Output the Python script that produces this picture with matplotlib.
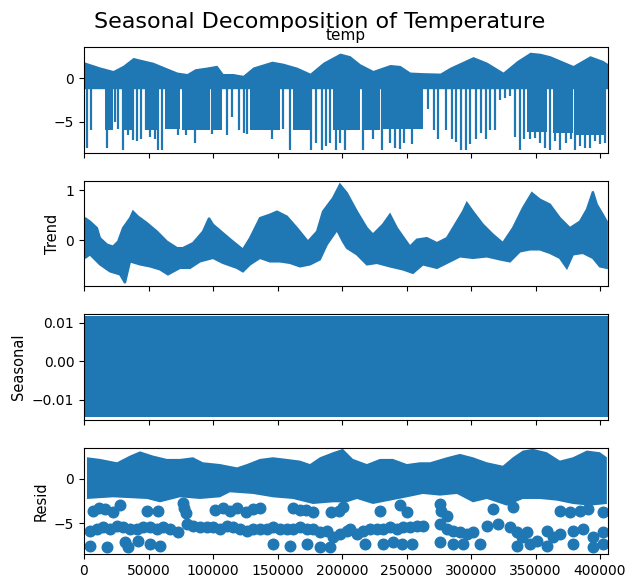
import numpy as np
import matplotlib
matplotlib.use("Agg")
import matplotlib.pyplot as plt

BLUE = "#1f77b4"

# ---------------- data ----------------
x_ticks = [0, 50000, 100000, 150000, 200000, 250000, 300000, 350000, 400000]
n_obs = 406200

# observed ("temp"): upper envelope of dense band, floor of band, deep runs and spikes
obs_x = [0, 12400, 22500, 30200, 38000, 43400, 53500, 72100, 79800, 86000, 95300,
         103000, 107700, 115400, 123200, 131000, 145700, 154300, 165100, 175200,
         185300, 198400, 206200, 214000, 224000, 237200, 245000, 252700, 262800,
         276000, 283700, 301600, 312400, 324800, 335700, 345700, 353500, 361200,
         379100, 392200, 402300, 406200]
obs_top = [1.9, 1.3, 0.9, 1.5, 2.4, 2.2, 1.85, 0.72, 0.55, 1.1, 1.3, 1.5, 0.55, 0.55,
           0.35, 1.3, 1.97, 1.74, 1.28, 0.6, 1.85, 2.9, 2.6, 1.67, 0.91, 1.59, 1.48,
           0.72, 0.65, 0.6, 1.28, 2.5, 1.85, 0.72, 2.05, 3.0, 2.88, 2.6, 1.48, 2.6,
           2.05, 1.67]
obs_floor = -1.2
deep_start = [16300, 29200, 47300, 62800, 75700, 99000, 128700, 162200, 193200,
              215200, 232000, 343100, 363800, 381700]
deep_end = [22700, 38200, 56300, 74400, 97700, 106700, 151900, 175200, 214000,
            229400, 263000, 358600, 379300, 405000]
deep_depth = [-5.9, -5.9, -5.9, -5.8, -5.9, -5.9, -5.9, -5.9, -5.9,
              -5.9, -5.8, -6.2, -6.3, -6.5]
spike_x = [2300, 5400, 17800, 24000, 26400, 30200, 34100, 38000, 41100, 44200, 48100,
           51200, 55000, 57400, 60500, 72900, 79100, 86000, 93800, 99200, 110800,
           114700, 120100, 124000, 126300, 145700, 150400, 154200, 159700, 175900,
           179800, 184500, 187600, 190700, 195300, 198400, 202300, 216200, 224000,
           231000, 237200, 241000, 244900, 248000, 254200, 266600, 271300, 274400,
           280600, 285200, 288300, 292200, 296100, 299200, 303800, 307700, 311600,
           314700, 318500, 322400, 326300, 330200, 334000, 337900, 341000, 345700,
           349500, 353400, 357300, 361200, 365000, 368900, 373600, 377400, 380500,
           384400, 388300, 392200, 396000, 399900, 403800]
spike_y = [-8.0, -5.9, -8.0, -5.0, -5.8, -8.2, -6.5, -7.1, -7.2, -7.0, -5.9, -6.8,
           -7.0, -8.2, -8.2, -6.5, -6.5, -7.5, -6.0, -6.4, -6.5, -4.5, -6.0, -6.3,
           -6.4, -7.0, -6.0, -5.8, -8.2, -8.2, -7.5, -8.2, -7.8, -7.5, -8.2, -7.5,
           -8.2, -8.2, -7.0, -8.2, -7.5, -8.0, -8.1, -7.4, -7.6, -3.5, -5.9, -7.0,
           -6.0, -7.0, -7.3, -8.2, -8.2, -7.6, -7.0, -6.3, -7.0, -5.9, -6.0, -2.5,
           -2.3, -2.0, -6.8, -8.2, -7.0, -7.0, -6.9, -7.5, -8.0, -8.2, -7.2, -8.2,
           -7.4, -7.0, -8.2, -7.8, -8.0, -8.0, -7.2, -7.6, -7.4]

# trend: upper and lower envelopes of the noisy band
trend_up_x = [800, 4650, 10100, 12400, 17800, 22500, 26400, 30200, 35700, 38000,
              41900, 48800, 56600, 64300, 72100, 76700, 84500, 92200, 96900, 100000,
              107700, 115500, 123200, 128700, 136400, 144200, 149600, 157300, 165100,
              173600, 180600, 185200, 193000, 198400, 203800, 211600, 219300, 224000,
              231700, 237200, 242600, 247200, 252700, 258100, 265800, 273600, 281300,
              286000, 293700, 296800, 301500, 309200, 317000, 324700, 332500, 340200,
              347200, 353400, 361200, 368900, 376700, 384400, 389800, 394500, 397600,
              402200, 405300]
trend_up = [0.44, 0.37, 0.24, 0.04, -0.09, -0.13, -0.03, 0.24, 0.44, 0.57,
            0.47, 0.34, 0.17, -0.03, -0.16, -0.16, -0.06, 0.17, 0.44, 0.31,
            0.14, -0.03, -0.19, 0.04, 0.44, 0.51, 0.57, 0.47, 0.24, -0.03,
            0.17, 0.57, 0.84, 1.11, 0.94, 0.57, 0.24, 0.11, 0.31, 0.51,
            0.24, 0.07, -0.13, 0.01, 0.04, -0.06, 0.04, 0.24, 0.57, 0.74,
            0.57, 0.31, 0.11, -0.06, 0.24, 0.64, 0.94, 0.81, 0.71, 0.44,
            0.24, 0.37, 0.61, 0.97, 0.71, 0.51, 0.37]
trend_lo_x = [800, 4650, 12400, 20200, 27900, 31800, 35700, 43400, 51200, 58900,
              65100, 74400, 82200, 89900, 100000, 107700, 118600, 123200, 128700, 136400,
              144200, 151900, 159700, 167400, 175200, 182900, 188300, 196100, 200700, 203800,
              211600, 219300, 227100, 237200, 247200, 255000, 262700, 273600, 283700, 291400,
              301500, 312300, 322400, 330200, 337900, 345700, 353400, 361200, 368900, 374300,
              379000, 386700, 394500, 399900, 405300]
trend_lo = [-0.36, -0.29, -0.49, -0.63, -0.69, -0.86, -0.43, -0.49, -0.53, -0.59,
            -0.69, -0.56, -0.56, -0.43, -0.36, -0.46, -0.56, -0.63, -0.49, -0.36,
            -0.43, -0.43, -0.46, -0.53, -0.49, -0.39, -0.09, 0.2, -0.03, -0.16,
            -0.29, -0.49, -0.46, -0.53, -0.59, -0.66, -0.49, -0.56, -0.43, -0.33,
            -0.36, -0.33, -0.39, -0.43, -0.23, -0.19, -0.19, -0.26, -0.36, -0.56,
            -0.29, -0.26, -0.36, -0.53, -0.56]

# seasonal: range of the fast oscillation
seasonal_max = 0.0117
seasonal_min = -0.0144

# residual: dense band envelopes + isolated points
resid_up_x = [2300, 12400, 25600, 35700, 43400, 53500, 64300, 74400, 84500, 92200,
              105400, 118600, 126300, 136400, 146500, 157300, 167400, 175200, 182900,
              193000, 200700, 208500, 219300, 229400, 239500, 250300, 260400, 268200,
              281300, 291400, 301500, 312300, 324700, 332500, 340200, 348000, 358800,
              368900, 379000, 389800, 399900, 405300]
resid_up = [2.47, 2.28, 1.90, 2.66, 3.14, 2.66, 2.28, 2.28, 2.47, 1.90,
            1.70, 1.32, 1.70, 2.28, 2.47, 2.28, 2.09, 1.70, 2.47, 3.04,
            3.42, 2.28, 1.70, 2.28, 2.28, 1.70, 1.90, 1.90, 2.47, 2.85,
            2.47, 1.90, 1.51, 2.47, 3.23, 3.42, 3.04, 2.09, 2.47, 3.23,
            3.04, 2.47]
resid_lo_x = [2300, 22500, 48800, 58900, 74400, 89900, 105400, 113200, 131000, 146500,
              162000, 177500, 193000, 203800, 211600, 224000, 237200, 250300, 262700,
              275900, 289100, 301500, 312300, 327800, 340200, 353400, 366600, 379000,
              392200, 405300]
resid_lo = [-2.27, -2.08, -2.27, -2.65, -2.08, -2.27, -2.08, -1.51, -1.70, -2.08,
            -2.27, -2.84, -2.65, -2.65, -2.27, -2.84, -2.46, -2.08, -1.70, -1.89,
            -1.70, -2.65, -2.27, -3.03, -2.27, -2.27, -2.46, -2.84, -3.03, -2.84]
resid_pts_x = [
    7000, 11500, 16100, 22700, 27900, 48700, 57200, 76600, 77600, 79000, 101400,
    107800, 113000, 118400, 125900, 131000, 136200, 162000, 167200, 172400, 177600,
    191300, 197500, 200800, 229400, 244900, 250000, 275900, 277000, 281100, 317100,
    332600, 368900, 376700, 384400, 390700, 402300,
    4650, 9800, 15000, 20150, 25300, 30500, 35650, 40800, 46000, 51150, 56300,
    61500, 66650, 73100, 79600, 84700, 89900, 95100, 100200, 105400, 110600,
    115700, 120900, 126100, 131200, 136400, 141600, 146700, 151900, 157100,
    162200, 167400, 172600, 177700, 182900, 188100, 193200, 198400, 203600,
    206200, 211300, 216500, 221700, 226800, 232000, 237200, 242300, 247500,
    252700, 257800, 263000, 275900, 281100, 286300, 291400, 296600, 301700,
    312100, 321100, 330200, 335300, 339200, 343100, 350800, 358600, 363800,
    368900, 379300, 387000, 394800, 402500,
    4650, 17600, 31800, 34400, 42100, 51200, 58900, 146700, 159700, 172600,
    182900, 190700, 217800, 232000, 239700, 246200, 253900, 275900, 286300,
    294000, 307000, 335300, 345700, 358600, 379300, 394800, 402500]
resid_pts_y = [
    -3.6, -3.3, -3.4, -3.8, -2.9, -3.6, -3.6, -2.7, -3.3, -3.9, -3.5,
    -3.3, -3.6, -3.3, -3.7, -3.4, -3.3, -3.3, -3.5, -3.5, -3.8,
    -3.8, -3.6, -3.2, -3.6, -3.0, -3.8, -2.8, -3.6, -4.2, -3.4,
    -3.2, -3.6, -3.8, -3.6, -3.4, -3.8,
    -5.87, -5.68, -5.49, -5.68, -5.3, -5.49, -5.68, -5.68, -5.49, -5.49, -5.68,
    -5.49, -5.68, -6.06, -5.11, -5.3, -5.49, -5.49, -5.49, -5.68, -5.3,
    -5.49, -5.68, -5.87, -5.68, -5.68, -5.68, -5.49, -5.68, -5.68,
    -5.68, -5.49, -5.68, -5.68, -6.06, -5.87, -6.63, -6.25, -5.87,
    -5.68, -6.25, -5.87, -5.68, -5.68, -5.68, -5.49, -5.68, -5.49,
    -5.49, -5.3, -5.3, -5.11, -5.68, -5.87, -6.06, -6.25, -6.06,
    -5.3, -5.11, -5.49, -6.06, -6.63, -6.06, -7.01, -5.87, -6.63,
    -6.25, -5.87, -5.68, -6.63, -6.06,
    -7.58, -7.77, -7.2, -7.77, -7.01, -7.39, -7.58, -7.39, -7.58, -7.39,
    -7.77, -7.77, -7.39, -7.39, -7.2, -7.39, -7.39, -7.2, -7.39,
    -7.39, -7.39, -7.58, -7.39, -7.58, -7.39, -7.77, -7.39]

# ---------------- figure ----------------
plt.rcParams["font.family"] = ["DejaVu Sans"]
fig = plt.figure(figsize=(6.27, 5.82), dpi=100)
left, width = 84 / 627, 524 / 627
rows = [(47, 153), (181, 286), (314, 420), (448, 554)]
axes = []
for top, bot in rows:
    ax = fig.add_axes([left, 1 - bot / 582, width, (bot - top) / 582])
    axes.append(ax)
ax1, ax2, ax3, ax4 = axes

# observed
ax1.fill_between(obs_x, obs_floor, obs_top, color=BLUE, lw=0)
for s, e, d in zip(deep_start, deep_end, deep_depth):
    ax1.fill_between([s, e], d, obs_floor, color=BLUE, lw=0)
ax1.vlines(spike_x, obs_floor, spike_y, color=BLUE, lw=1.6)
ax1.set_ylim(-8.6, 3.6)
ax1.set_yticks([0, -5])
ax1.set_title("temp", fontsize=11, pad=5)

# trend
poly_x = np.concatenate([trend_up_x, trend_lo_x[::-1]])
poly_y = np.concatenate([trend_up, trend_lo[::-1]])
ax2.fill(poly_x, poly_y, color=BLUE, lw=1.5, ec=BLUE)
ax2.set_ylim(-0.92, 1.18)
ax2.set_yticks([0, 1])
ax2.set_ylabel("Trend", fontsize=10.5)

# seasonal
ax3.fill_between([0, n_obs], seasonal_min, seasonal_max, color=BLUE, lw=0)
ax3.set_ylim(-0.0152, 0.0123)
ax3.set_yticks([-0.01, 0.0, 0.01])
ax3.set_yticklabels(["\u22120.01", "0.00", "0.01"])
ax3.set_ylabel("Seasonal", fontsize=10.5)

# resid
rpx = np.concatenate([resid_up_x, resid_lo_x[::-1]])
rpy = np.concatenate([resid_up, resid_lo[::-1]])
ax4.fill(rpx, rpy, color=BLUE, lw=0)
ax4.plot(resid_pts_x, resid_pts_y, "o", color=BLUE, ms=7.6, linestyle="none")
ax4.set_ylim(-8.52, 3.52)
ax4.set_yticks([0, -5])
ax4.set_ylabel("Resid", fontsize=10.5)

for ax in axes:
    ax.set_xlim(0, n_obs)
    ax.set_xticks(x_ticks)
    ax.tick_params(labelsize=10)
for ax in axes[:3]:
    ax.set_xticklabels([])
ax4.set_xticklabels([str(t) for t in x_ticks])

fig.text(0.51, 1 - 22 / 582, "Seasonal Decomposition of Temperature",
         fontsize=16, ha="center", va="center")

fig.savefig("out.png", dpi=100)
